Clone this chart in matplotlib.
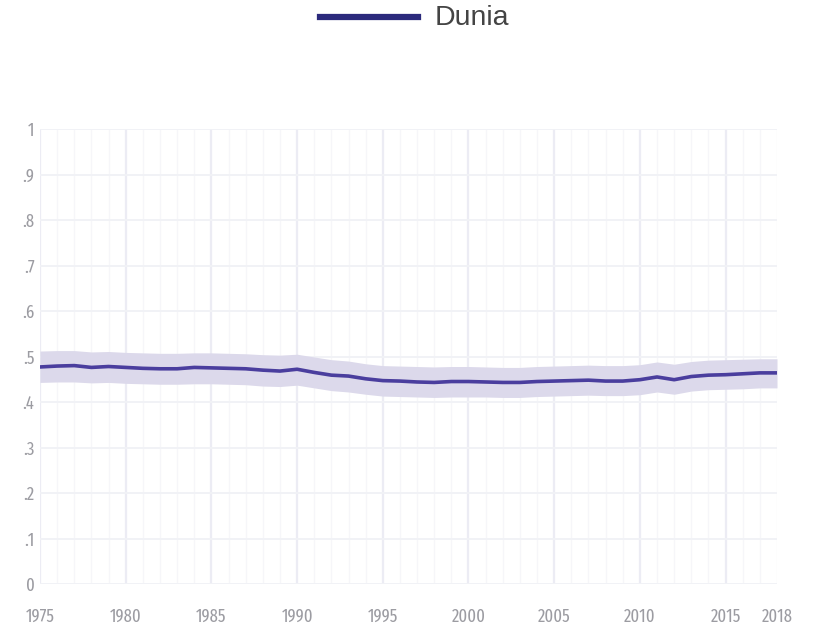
import matplotlib
matplotlib.use("Agg")
import matplotlib.pyplot as plt

# data
years = list(range(1975, 2019))
dunia = [0.477, 0.479, 0.480, 0.476, 0.478, 0.476, 0.474, 0.473, 0.473, 0.476,
         0.475, 0.474, 0.473, 0.470, 0.468, 0.472, 0.465, 0.459, 0.457, 0.451,
         0.447, 0.446, 0.444, 0.443, 0.445, 0.445, 0.444, 0.443, 0.443, 0.445,
         0.446, 0.447, 0.448, 0.446, 0.446, 0.449, 0.455, 0.449, 0.456, 0.459,
         0.460, 0.462, 0.464, 0.464]
upper = [0.512, 0.513, 0.513, 0.510, 0.511, 0.509, 0.508, 0.507, 0.507, 0.508,
         0.508, 0.507, 0.506, 0.504, 0.503, 0.505, 0.499, 0.493, 0.490, 0.484,
         0.480, 0.479, 0.478, 0.477, 0.478, 0.478, 0.477, 0.476, 0.476, 0.478,
         0.479, 0.480, 0.481, 0.480, 0.480, 0.482, 0.488, 0.483, 0.489, 0.492,
         0.493, 0.494, 0.495, 0.495]
lower = [0.443, 0.444, 0.444, 0.442, 0.443, 0.441, 0.440, 0.439, 0.439, 0.440,
         0.440, 0.439, 0.438, 0.435, 0.434, 0.437, 0.431, 0.425, 0.422, 0.417,
         0.413, 0.412, 0.411, 0.410, 0.411, 0.411, 0.411, 0.410, 0.410, 0.412,
         0.413, 0.414, 0.415, 0.414, 0.414, 0.416, 0.422, 0.417, 0.424, 0.427,
         0.428, 0.429, 0.431, 0.431]
xticks = [1975, 1980, 1985, 1990, 1995, 2000, 2005, 2010, 2015, 2018]
yticks = [0, 0.1, 0.2, 0.3, 0.4, 0.5, 0.6, 0.7, 0.8, 0.9, 1]
ylabels = ["0", ".1", ".2", ".3", ".4", ".5", ".6", ".7", ".8", ".9", "1"]

narrow = ["Fira Sans Extra Condensed", "Barlow Condensed", "DejaVu Sans"]

fig = plt.figure(figsize=(8.15, 6.26), dpi=100)
ax = fig.add_axes([40 / 815, 1 - 584 / 626, 737 / 815, 455 / 626])

# grid: yearly faint lines, stronger every 5 years
for y in range(1975, 2019):
    major = (y - 1975) % 5 == 0
    ax.axvline(y, color="#ececf4" if major else "#f6f6f9",
               lw=1.6 if major else 1.0, zorder=0)
for v in yticks:
    ax.axhline(v, color="#f1f2f6", lw=1.4, zorder=0)

ax.fill_between(years, lower, upper, color="#dcd9eb", lw=0, zorder=1)
ax.plot(years, dunia, color="#4a3e9e", lw=2.6, zorder=2)

ax.set_xlim(1975, 2018)
ax.set_ylim(0, 1)
for s in ax.spines.values():
    s.set_visible(False)
ax.set_xticks(xticks)
ax.set_xticklabels([str(x) for x in xticks], family=narrow, fontsize=13,
                   color="#9c9ca2")
ax.set_yticks(yticks)
ax.set_yticklabels(ylabels, family=narrow, fontsize=13, color="#9c9ca2")
ax.tick_params(axis="x", length=0, pad=17)
ax.tick_params(axis="y", length=0, pad=4)

# legend at the top
fig.add_artist(plt.Line2D([320 / 815, 418 / 815], [1 - 17 / 626, 1 - 17 / 626],
                          color="#2b2a7c", lw=4.5))
fig.text(435 / 815, 1 - 18 / 626, "Dunia", fontsize=20.5, color="#444444",
         va="center", ha="left", family=["Liberation Sans", "DejaVu Sans"])

fig.savefig("out.png", dpi=100)
